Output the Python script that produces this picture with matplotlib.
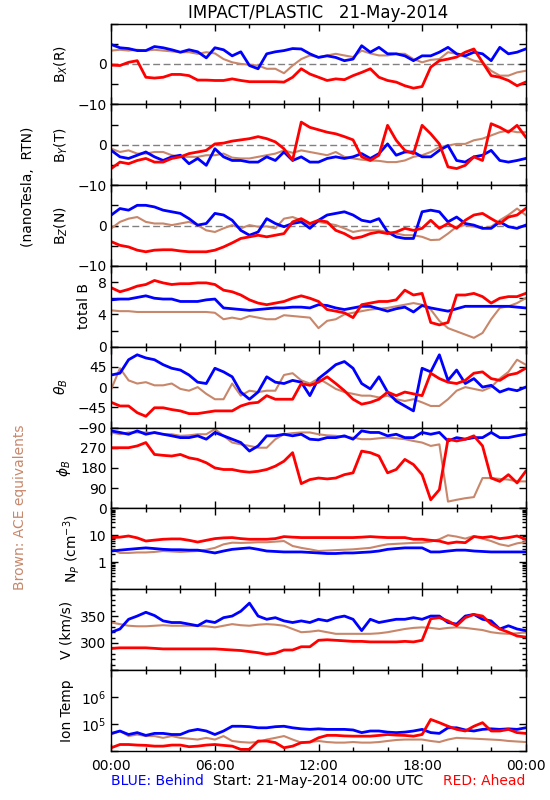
import numpy as np
import matplotlib
matplotlib.use('Agg')
import matplotlib.pyplot as plt
from matplotlib.ticker import MultipleLocator, LogLocator, NullFormatter

# Horas do dia (amostras a cada 30 min, 21-May-2014)
hours = np.arange(49) * 0.5

# Bx (R) em nT
bx_blue = [4.8, 4.0, 3.8, 3.3, 3.3, 4.3, 4.0, 3.5, 2.9, 3.5,
           3.0, 1.5, 4.0, 3.5, 2.0, 3.0, -0.4, -1.2, 2.5, 3.0,
           3.3, 3.8, 3.7, 2.5, 1.6, 2.0, 1.6, 0.8, 1.2, 4.5,
           2.9, 4.1, 2.5, 2.5, 2.0, 0.8, 2.0, 2.0, 2.9, 4.1,
           2.5, 2.0, 2.9, 2.5, 0.8, 4.1, 2.5, 2.9, 3.7]
bx_red = [-0.3, -0.4, 0.4, 0.8, -3.3, -3.5, -3.3, -2.6, -2.6, -2.9,
          -4.0, -4.0, -4.1, -4.1, -3.7, -4.1, -4.4, -4.4, -4.4, -4.4,
          -4.5, -3.3, -1.2, -2.5, -3.3, -4.1, -3.7, -3.9, -2.9, -2.1,
          -1.2, -3.3, -4.1, -4.5, -5.4, -6.0, -5.6, -0.8, 0.8, 1.2,
          1.7, 2.9, 3.7, 0.4, -2.9, -3.3, -4.1, -5.4, -4.5]
bx_brown = [3.3, 3.5, 3.3, 3.5, 3.3, 3.5, 3.3, 3.1, 2.9, 2.9,
            2.5, 2.9, 2.6, 1.2, 0.4, 0.0, -0.2, -0.4, -1.2, -1.2,
            -2.3, -0.4, 1.2, 2.1, 1.7, 2.1, 2.5, 2.1, 1.7, 3.3,
            2.6, 2.1, 2.1, 2.5, 2.5, 1.2, 0.4, 1.0, 1.2, 2.9,
            2.5, 1.7, 0.8, 0.4, -1.7, -2.9, -2.9, -2.1, -1.7]

# By (T) em nT
by_blue = [-1.4, -3.0, -3.4, -2.6, -1.8, -3.0, -3.9, -3.0, -2.6, -4.7,
           -3.4, -5.1, -1.0, -3.0, -3.9, -3.9, -4.3, -4.3, -3.0, -3.9,
           -1.8, -3.9, -3.0, -4.3, -4.3, -3.4, -3.0, -3.4, -3.0, -2.2,
           -3.4, -2.2, 0.2, -2.6, -1.8, -1.8, -3.0, -3.0, -1.4, -0.2,
           -3.9, -4.3, -3.0, -2.6, -1.4, -3.9, -4.3, -3.9, -3.4]
by_red = [-5.9, -4.3, -4.7, -3.9, -3.4, -4.3, -4.3, -3.4, -3.0, -2.2,
          -1.8, -1.4, 0.2, 0.4, 0.9, 1.2, 1.5, 2.0, 1.5, 0.7,
          -1.0, -3.8, 5.6, 4.3, 3.7, 3.1, 2.7, 2.0, 1.2, -3.0,
          -3.9, -2.6, 4.8, 1.1, -1.4, -2.2, 4.8, 2.7, 0.2, -5.5,
          -5.9, -5.1, -3.0, -3.9, 5.2, 4.3, 3.1, 4.8, 1.9]
by_brown = [-1.0, -1.8, -1.4, -2.2, -2.2, -1.8, -1.8, -2.6, -3.0, -3.0,
            -3.0, -2.6, -2.6, -2.2, -3.2, -3.4, -3.4, -3.0, -2.6, -2.2,
            -1.4, -2.0, -1.4, -1.8, -2.2, -2.6, -1.8, -3.0, -3.4, -3.7,
            -3.9, -4.0, -4.3, -4.3, -3.9, -3.0, -2.6, -1.8, -0.6, -0.2,
            0.2, 0.2, 1.1, 1.5, 2.3, 3.1, 3.5, 3.1, 3.1]

# Bz (N) em nT
bz_blue = [2.6, 4.2, 3.8, 5.0, 5.0, 4.6, 3.8, 3.4, 3.0, 1.7,
           0.1, 0.5, 3.0, 2.6, 1.3, -1.2, -2.4, -1.6, 1.7, 0.5,
           -0.3, 0.5, 0.9, -0.7, 1.3, 2.6, 3.0, 3.4, 2.6, 1.3,
           0.9, 1.7, -1.6, -2.8, -3.2, -3.2, 3.4, 3.8, 3.4, 0.9,
           2.1, 0.5, 0.1, -0.7, -0.7, 0.9, -0.3, -0.7, 0.1]
bz_red = [-4.0, -4.9, -5.3, -6.1, -6.5, -6.1, -6.0, -6.0, -6.3, -6.5,
          -6.5, -6.5, -6.1, -5.3, -4.3, -3.2, -2.8, -2.4, -2.8, -2.4,
          -2.0, 0.9, 1.7, 0.5, 1.3, 0.9, -1.2, -2.0, -3.2, -2.8,
          -2.0, -1.6, -2.0, -1.6, -0.7, -1.2, -0.7, 1.3, -0.7, 0.5,
          -0.7, 1.3, 2.6, 3.0, 1.7, 0.5, 2.1, 2.6, 4.2]
bz_brown = [-0.7, 0.9, 1.7, 2.1, 0.9, 0.5, 0.5, 0.1, 0.5, 0.9,
            0.1, -1.2, -1.6, -0.7, 0.1, -0.7, 0.1, -0.3, -0.2, -0.7,
            1.7, 2.1, 1.3, 0.1, 0.9, 0.5, 0.1, -0.7, -1.6, -1.2,
            -1.2, -1.2, -1.6, -2.0, -2.4, -2.4, -2.8, -3.6, -3.5, -2.0,
            -0.3, 0.1, -0.3, -0.7, -0.3, 1.3, 2.6, 4.2, 2.6]

# |B| em nT
bt_blue = [5.8, 5.9, 5.9, 6.1, 6.3, 6.0, 5.9, 5.9, 5.6, 5.6,
           5.6, 5.8, 5.9, 4.8, 4.7, 4.6, 4.5, 4.6, 4.7, 4.8,
           4.8, 4.9, 4.9, 4.8, 5.2, 5.1, 4.8, 4.6, 4.8, 5.0,
           5.0, 4.7, 4.4, 4.7, 4.9, 4.3, 5.1, 4.8, 4.6, 4.4,
           4.7, 5.0, 5.0, 5.0, 5.0, 5.0, 5.0, 4.9, 4.8]
bt_red = [7.3, 6.8, 7.1, 7.5, 7.7, 8.2, 7.9, 7.7, 7.8, 7.8,
          7.9, 7.9, 7.7, 7.0, 6.8, 6.4, 5.8, 5.4, 5.2, 5.4,
          5.6, 6.0, 6.3, 6.0, 5.6, 4.6, 4.4, 4.2, 3.6, 5.2,
          5.4, 5.6, 5.6, 5.8, 7.0, 6.4, 6.6, 3.0, 2.7, 3.0,
          6.4, 6.4, 6.6, 6.2, 5.4, 6.0, 6.2, 6.2, 6.6]
bt_brown = [4.5, 4.4, 4.4, 4.3, 4.3, 4.3, 4.3, 4.3, 4.3, 4.3,
            4.3, 4.3, 4.2, 3.4, 3.6, 3.4, 3.8, 3.6, 3.4, 3.4,
            3.9, 3.8, 3.7, 3.6, 2.3, 3.2, 3.4, 4.0, 4.2, 4.4,
            4.6, 4.7, 4.8, 5.0, 5.2, 5.4, 5.2, 4.6, 3.2, 2.3,
            1.9, 1.5, 1.1, 1.7, 3.4, 4.8, 5.0, 5.4, 6.0]

# theta_B em graus
th_blue = [27, 31, 61, 72, 65, 61, 50, 42, 38, 27,
           11, 8, 42, 34, 23, -11, -27, -11, 23, 11,
           8, 15, 11, -19, 19, 34, 50, 57, 42, 8,
           -4, 23, -11, -31, -42, -53, 42, 34, 72, 15,
           38, 8, 19, 0, 4, -11, -4, -8, 0]
th_red = [-34, -42, -42, -57, -65, -46, -46, -50, -53, -59,
          -59, -56, -53, -53, -53, -42, -36, -34, -19, -27,
          -27, -27, 8, 4, 11, 23, 8, -8, -27, -38,
          -34, -27, -11, -19, -11, -15, -19, 31, 19, 11,
          8, 15, 31, 34, 19, 15, 27, 31, 42]
th_brown = [-4, 42, 15, 8, 11, 4, 4, 8, -4, -8,
            0, -15, -27, -27, 8, -19, -8, -11, -8, -8,
            27, 31, 15, 8, 19, 8, -4, -11, -15, -19,
            -19, -23, -19, -27, -31, -27, -34, -42, -42, -27,
            -8, 0, -4, -8, 0, 19, 34, 61, 50]

# phi_B em graus
ph_blue = [345, 338, 330, 345, 330, 338, 330, 323, 315, 315,
           323, 308, 338, 323, 308, 293, 255, 278, 323, 323,
           330, 323, 330, 308, 305, 315, 315, 323, 308, 345,
           338, 338, 323, 330, 315, 315, 338, 330, 338, 300,
           315, 308, 315, 315, 338, 315, 315, 323, 330]
ph_red = [270, 270, 270, 278, 293, 240, 236, 233, 240, 225,
          218, 203, 180, 173, 173, 165, 161, 165, 173, 188,
          210, 248, 110, 128, 135, 131, 135, 150, 158, 255,
          248, 233, 158, 173, 218, 195, 150, 38, 83, 308,
          300, 308, 323, 278, 135, 120, 150, 113, 165]
ph_brown = [338, 330, 338, 338, 338, 335, 330, 330, 323, 325,
            330, 330, 353, 323, 293, 285, 278, 270, 270, 308,
            330, 335, 338, 338, 330, 325, 323, 318, 315, 308,
            308, 312, 315, 312, 308, 300, 293, 278, 285, 30,
            38, 45, 50, 135, 135, 131, 128, 120, 120]

# Densidade de protons (cm^-3)
np_blue = [2.6, 2.8, 3.0, 3.2, 3.4, 3.2, 3.0, 2.9, 2.9, 2.8,
           2.8, 2.5, 2.2, 2.6, 3.0, 3.2, 3.4, 3.0, 2.6, 2.5,
           2.4, 2.4, 2.4, 2.3, 2.2, 2.1, 2.1, 2.2, 2.2, 2.3,
           2.4, 2.6, 3.0, 3.2, 3.4, 3.4, 3.4, 2.4, 2.4, 2.6,
           2.8, 2.8, 2.6, 2.5, 2.4, 2.4, 2.4, 2.4, 2.4]
np_red = [8.2, 8.5, 9.4, 8.0, 6.1, 6.6, 7.1, 7.3, 7.3, 6.5,
          5.6, 6.5, 7.5, 8.0, 8.2, 7.5, 7.1, 7.1, 7.1, 7.5,
          8.9, 8.5, 8.2, 8.2, 8.2, 8.2, 8.2, 8.2, 8.2, 8.5,
          8.9, 8.5, 8.2, 8.2, 8.2, 7.1, 7.1, 6.5, 6.1, 5.0,
          5.6, 5.3, 8.9, 8.2, 8.9, 7.5, 8.2, 9.4, 7.1]
np_brown = [3.0, 2.2, 2.2, 2.3, 2.3, 2.4, 2.6, 2.5, 2.4, 2.5,
            2.6, 2.9, 3.4, 4.6, 5.3, 5.2, 5.3, 5.5, 5.5, 5.8,
            6.1, 4.0, 3.4, 3.0, 2.6, 2.7, 2.8, 2.9, 3.0, 3.2,
            3.4, 4.0, 4.6, 4.8, 5.0, 5.2, 5.3, 5.8, 7.1, 10.0,
            8.9, 7.5, 9.4, 7.5, 6.1, 4.6, 4.0, 5.0, 5.6]

# Velocidade (km/s)
v_blue = [320, 326, 344, 350, 357, 351, 341, 338, 338, 335,
          332, 341, 338, 347, 350, 359, 374, 350, 344, 347,
          341, 338, 341, 338, 344, 341, 347, 350, 344, 323,
          344, 338, 341, 344, 344, 347, 344, 350, 350, 338,
          335, 350, 353, 344, 341, 326, 332, 326, 323]
v_red = [290, 291, 291, 291, 291, 290, 289, 289, 289, 289,
         289, 289, 289, 288, 287, 286, 284, 282, 279, 281,
         287, 287, 293, 293, 305, 306, 305, 304, 303, 303,
         302, 302, 302, 302, 303, 302, 305, 345, 347, 341,
         332, 347, 353, 350, 335, 326, 320, 313, 311]
v_brown = [338, 335, 332, 331, 331, 332, 333, 332, 332, 332,
           332, 331, 329, 332, 335, 333, 332, 334, 335, 334,
           332, 326, 320, 321, 323, 320, 317, 317, 317, 317,
           317, 318, 320, 323, 326, 328, 329, 328, 326, 328,
           329, 328, 326, 324, 320, 318, 317, 318, 320]

# Temperatura ionica (milhares de K)
t_blue_kK = [44, 54, 40, 47, 37, 44, 44, 40, 40, 54,
             62, 54, 40, 54, 81, 81, 78, 71, 71, 78,
             81, 71, 65, 62, 65, 62, 62, 62, 59, 47,
             54, 54, 49, 47, 49, 54, 62, 47, 44, 71,
             71, 59, 54, 62, 65, 62, 65, 62, 71]
t_red_kK = [12.9, 17, 17, 16.2, 15.8, 14.8, 14.8, 16.2, 16.2, 14.1,
            14.8, 16.2, 17, 15.8, 14.8, 11.2, 11.2, 22.9, 22.9, 20,
            12.9, 14.8, 20, 20.9, 30.2, 37.2, 37.2, 35.5, 34.7, 34.7,
            34.7, 37, 40, 38, 37, 34.7, 40, 145, 110, 81,
            62, 54, 81, 110, 54, 54, 62, 47, 44]
t_brown_kK = [40, 54, 35, 40, 35, 35, 30, 35, 30, 28,
              26, 30, 26, 35, 23, 21, 20, 21, 26, 30,
              35, 26, 20, 21, 23, 21, 20, 20, 21, 20,
              20, 21, 23, 25, 26, 26, 26, 23, 21, 26,
              30, 29, 28, 27, 26, 25, 23, 22, 21]

BLUE = '#0000ff'
RED = '#ff0000'
BROWN = '#c8876b'

# (rotulo, azul, vermelho, marrom, limites, ticks, rotulos dos ticks, log?, linha zero?)
paineis = [
    ('B$_X$(R)', bx_blue, bx_red, bx_brown, (-10, 10), [-10, -5, 0, 5, 10], ['\u221210', '', '0', '', ''], False, True),
    ('B$_Y$(T)', by_blue, by_red, by_brown, (-10, 10), [-10, -5, 0, 5, 10], ['\u221210', '', '0', '', ''], False, True),
    ('B$_Z$(N)', bz_blue, bz_red, bz_brown, (-10, 10), [-10, -5, 0, 5, 10], ['\u221210', '', '0', '', ''], False, True),
    ('total B', bt_blue, bt_red, bt_brown, (0, 10), [0, 2, 4, 6, 8, 10], ['0', '', '4', '', '8', ''], False, False),
    (r'$\theta_B$', th_blue, th_red, th_brown, (-90, 90), [-90, -45, 0, 45, 90], ['\u221290', '\u221245', '0', '45', ''], False, False),
    (r'$\phi_B$', ph_blue, ph_red, ph_brown, (0, 360), [0, 90, 180, 270, 360], ['0', '90', '180', '270', ''], False, False),
    ('N$_P$ (cm$^{-3}$)', np_blue, np_red, np_brown, (0.1, 100), [0.1, 1, 10, 100], ['', '1', '10', ''], True, False),
    ('V (km/s)', v_blue, v_red, v_brown, (250, 400), [250, 300, 350, 400], ['', '300', '350', ''], False, False),
    ('Ion Temp', np.array(t_blue_kK) * 1e3, np.array(t_red_kK) * 1e3, np.array(t_brown_kK) * 1e3,
     (1e4, 1e7), [1e4, 1e5, 1e6, 1e7], ['', '10$^5$', '10$^6$', ''], True, False),
]

fig = plt.figure(figsize=(5.5, 8), dpi=100)
axes = fig.subplots(9, 1, sharex=True, gridspec_kw=dict(hspace=0))
fig.subplots_adjust(left=0.2024, right=0.9558, bottom=0.0616, top=0.9706)

for ax, (rot, azul, verm, marrom, lim, ticks, tlabels, log, zero) in zip(axes, paineis):
    if zero:
        ax.axhline(0, color='#808080', lw=1, ls=(0, (5, 2.5)), zorder=0)
    ax.plot(hours, marrom, color=BROWN, lw=1.5)
    ax.plot(hours, azul, color=BLUE, lw=2.0)
    ax.plot(hours, verm, color=RED, lw=2.0)
    if log:
        ax.set_yscale('log')
        ax.yaxis.set_minor_locator(LogLocator(base=10, subs=range(2, 10)))
        ax.yaxis.set_minor_formatter(NullFormatter())
    ax.set_ylim(lim)
    ax.set_yticks(ticks)
    ax.set_yticklabels(tlabels)
    if rot == 'V (km/s)':
        ax.yaxis.set_minor_locator(MultipleLocator(10))
    # rotulo posicionado pelo proprio matplotlib (depende da largura dos ticks)
    ax.set_ylabel(rot, fontsize=10, labelpad=5)
    ax.tick_params(which='both', direction='in', top=True, right=True, labelsize=10)
    ax.tick_params(which='major', length=5, width=1)
    ax.tick_params(which='minor', length=3, width=1)
    for s in ax.spines.values():
        s.set_linewidth(1)

# Eixo de tempo
ax = axes[-1]
ax.set_xlim(0, 24)
ax.set_xticks([0, 6, 12, 18, 24])
ax.set_xticklabels(['00:00', '06:00', '12:00', '18:00', '00:00'])
ax.xaxis.set_minor_locator(MultipleLocator(2))
ax.tick_params(axis='x', pad=6)

# Textos da figura
fig.text(0.578, 0.984, 'IMPACT/PLASTIC   21-May-2014', ha='center', va='center', fontsize=12)
fig.text(0.051, 0.767, '(nanoTesla,  RTN)', rotation=90, ha='center', va='center', fontsize=10)
fig.text(0.036, 0.366, 'Brown: ACE equivalents', rotation=90, ha='center', va='center', fontsize=10, color=BROWN)
fig.text(0.2024, 0.024, 'BLUE: Behind', ha='left', va='center', fontsize=10, color=BLUE)
fig.text(0.578, 0.024, 'Start: 21-May-2014 00:00 UTC', ha='center', va='center', fontsize=10)
fig.text(0.9558, 0.024, 'RED: Ahead', ha='right', va='center', fontsize=10, color=RED)

fig.savefig('out.png', dpi=100)
